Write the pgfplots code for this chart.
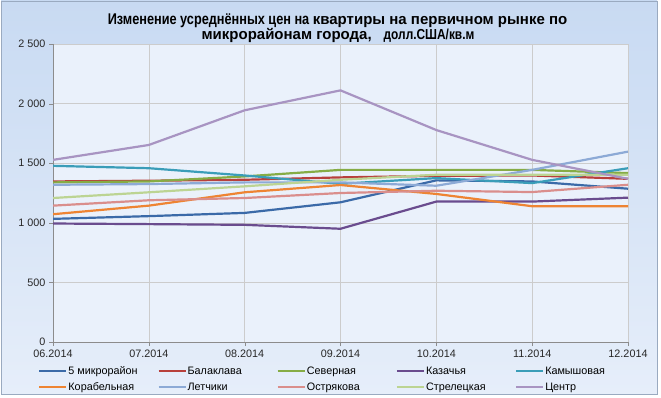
\documentclass[border=0pt]{standalone}
\usepackage{pgfplots}
\pgfplotsset{compat=1.18}
\usepackage{fontspec}
\setmainfont{Liberation Sans}
\newfontfamily\narrowfont[FakeStretch=0.82]{Liberation Sans}
\definecolor{c1}{HTML}{3B6AA8}
\definecolor{c2}{HTML}{B8403C}
\definecolor{c3}{HTML}{86AC45}
\definecolor{c4}{HTML}{6A4C8E}
\definecolor{c5}{HTML}{3A9DB8}
\definecolor{c6}{HTML}{EE8433}
\definecolor{c7}{HTML}{8DAAD6}
\definecolor{c8}{HTML}{DA8E8C}
\definecolor{c9}{HTML}{BCD493}
\definecolor{c10}{HTML}{A894C2}
\definecolor{bgtop}{HTML}{C8DAF2}
\definecolor{bgbot}{HTML}{E6EEFA}
\definecolor{plotbg}{HTML}{EAF1FB}
\definecolor{frame}{HTML}{9AAAC0}
\begin{document}
\begin{tikzpicture}
\path[use as bounding box] (0,0) rectangle (661pt,397pt);
\fill[white] (0,0) rectangle (661pt,397pt);
\shade[top color=bgtop, bottom color=bgbot, draw=frame] (1pt,3pt) rectangle (657pt,396pt);
\node[anchor=base, inner sep=0pt] at (337.5pt,372pt)
  {{\narrowfont\bfseries\fontsize{15.5}{16}\selectfont Изменение усреднённых цен на }{\bfseries\fontsize{15}{16}\selectfont квартиры на первичном рынке по}};
\node[anchor=base, inner sep=0pt] at (338pt,357pt)
  {{\bfseries\fontsize{15}{16}\selectfont микрорайонам города,}\hspace{12pt}{\narrowfont\bfseries\fontsize{14.5}{16}\selectfont долл.США/кв.м}};
\begin{axis}[
  at={(53pt,55pt)}, anchor=south west,
  scale only axis, width=575pt, height=298pt,
  xmin=0, xmax=6, ymin=0, ymax=2500,
  xtick={0,...,6},
  xticklabels={06.2014,07.2014,08.2014,09.2014,10.2014,11.2014,12.2014},
  ytick={0,500,...,2500},
  /pgf/number format/.cd, 1000 sep={\ }, assume math mode=true, /pgfplots/.cd,
  grid=major, grid style={draw=black!20, line width=0.6pt},
  axis lines*=left, axis line style={draw=black!45},
  tick style={draw=black!45}, tick align=outside, major tick length=4pt,
  axis background/.style={fill=plotbg},
  tick label style={font=\fontsize{10.8}{12}\selectfont, text=black!85},
  every axis plot/.append style={line width=2.2pt, no markers, line join=round},
  legend columns=5,
  legend style={at={(-0.026,-0.078)}, anchor=north west, draw=none, fill=none,
    font=\fontsize{10.8}{12}\selectfont, inner sep=0pt, column sep=0pt, row sep=4.5pt,
    nodes={inner sep=1pt}},
  legend cell align=left,
  legend image code/.code={\draw[#1, line width=2.2pt] (0pt,0pt) -- (27pt,0pt);},
]
\addplot[c1] coordinates {(0,1033) (1,1056) (2,1083) (3,1172) (4,1356) (5,1347) (6,1286)};
\addlegendentry{\makebox[88pt][l]{5 микрорайон}}
\addplot[c2] coordinates {(0,1347) (1,1353) (2,1361) (3,1381) (4,1394) (5,1397) (6,1369)};
\addlegendentry{\makebox[88pt][l]{Балаклава}}
\addplot[c3] coordinates {(0,1339) (1,1347) (2,1389) (3,1444) (4,1444) (5,1444) (6,1417)};
\addlegendentry{\makebox[88pt][l]{Северная}}
\addplot[c4] coordinates {(0,994) (1,989) (2,983) (3,950) (4,1178) (5,1178) (6,1211)};
\addlegendentry{\makebox[88pt][l]{Казачья}}
\addplot[c5] coordinates {(0,1478) (1,1458) (2,1397) (3,1327) (4,1375) (5,1333) (6,1458)};
\addlegendentry{\makebox[88pt][l]{Камышовая}}
\addplot[c6] coordinates {(0,1072) (1,1144) (2,1256) (3,1317) (4,1242) (5,1139) (6,1139)};
\addlegendentry{\makebox[88pt][l]{Корабельная}}
\addplot[c7] coordinates {(0,1319) (1,1325) (2,1339) (3,1339) (4,1311) (5,1444) (6,1597)};
\addlegendentry{\makebox[88pt][l]{Летчики}}
\addplot[c8] coordinates {(0,1144) (1,1189) (2,1208) (3,1250) (4,1269) (5,1258) (6,1319)};
\addlegendentry{\makebox[88pt][l]{Острякова}}
\addplot[c9] coordinates {(0,1208) (1,1256) (2,1306) (3,1361) (4,1403) (5,1403) (6,1403)};
\addlegendentry{\makebox[88pt][l]{Стрелецкая}}
\addplot[c10] coordinates {(0,1528) (1,1653) (2,1944) (3,2111) (4,1778) (5,1528) (6,1369)};
\addlegendentry{\makebox[88pt][l]{Центр}}
\end{axis}
\end{tikzpicture}
\end{document}
